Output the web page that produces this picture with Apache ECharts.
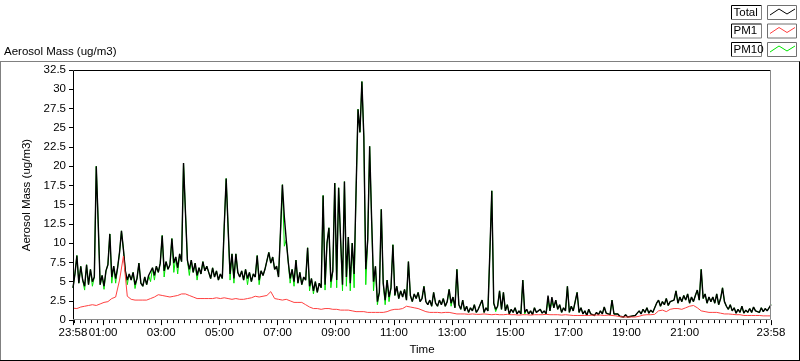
<!DOCTYPE html>
<html>
<head>
<meta charset="utf-8">
<script src="https://cdn.jsdelivr.net/npm/echarts@6/dist/echarts.min.js"></script>
<style>
html,body{margin:0;padding:0;background:#fff;}
#chart{width:800px;height:361px;}
</style>
</head>
<body>
<div id="chart"></div>
<script>
// ---- Data (minutes after 23:58 start) ----
const totalStep = 4;   // minutes between Total / PM10 samples
const pm1Step = 8;     // minutes between PM1 samples

const total = [
4.2,6.0,8.4,4.8,7.0,5.2,4.4,7.2,4.6,6.6,
5.0,5.6,20.0,12.6,4.6,5.8,4.4,6.4,7.2,11.2,
5.6,7.0,5.4,6.8,8.8,11.6,9.2,6.4,5.2,6.0,
5.2,6.2,4.6,5.4,7.4,4.8,4.4,5.6,4.6,5.8,
5.6,6.8,5.8,7.0,6.2,7.4,11.0,6.4,7.6,6.6,
7.2,10.6,7.4,8.2,6.8,8.6,7.6,20.4,14.0,7.8,
6.6,7.8,6.2,7.4,5.8,6.8,6.0,7.6,6.4,7.0,
6.2,5.4,6.8,5.6,6.4,5.2,6.0,5.4,12.2,18.4,
12.0,6.0,8.6,5.4,8.6,6.2,5.6,6.4,5.2,6.6,
5.4,6.2,5.0,6.0,5.6,8.4,5.2,6.4,5.8,6.6,
6.8,8.8,7.4,8.2,6.6,7.0,5.6,11.4,17.6,13.4,
10.4,7.6,5.4,6.6,5.0,7.8,4.8,6.2,4.6,5.6,
5.2,9.4,4.4,5.4,3.8,5.0,3.6,4.8,4.2,16.2,
4.6,10.0,12.0,5.0,6.4,17.8,5.2,17.2,10.6,4.6,
18.0,5.6,10.8,4.8,10.0,6.0,16.8,27.4,24.4,31.0,
23.8,6.6,10.4,22.6,13.2,5.0,7.0,2.4,3.6,14.4,
4.8,2.6,5.2,3.0,4.2,9.8,3.2,4.4,2.8,3.8,
3.0,4.0,2.6,7.6,3.2,2.4,3.4,2.8,3.6,2.4,
2.8,4.4,2.4,2.0,2.6,1.8,3.6,2.2,1.8,2.6,
2.0,2.8,1.8,2.4,4.0,2.2,3.0,1.6,6.6,2.0,
1.4,2.6,1.2,1.8,1.0,1.6,1.2,2.0,1.0,1.4,
1.2,2.6,1.0,1.6,1.2,8.8,16.8,2.2,1.4,1.8,
3.8,1.4,3.6,1.2,2.0,0.8,1.4,1.0,1.6,0.8,
1.2,0.8,5.2,1.0,1.4,0.8,1.2,0.7,1.6,1.0,
0.8,1.4,0.9,1.2,0.8,3.2,1.2,3.0,1.6,2.6,
1.4,2.0,1.0,1.6,1.2,4.4,1.0,1.8,1.2,1.4,
3.6,1.0,1.6,0.8,1.2,0.6,1.4,0.8,1.0,0.6,
1.0,0.7,1.2,0.8,1.7,0.9,1.0,0.7,2.6,0.8,
0.6,0.8,0.5,0.6,0.4,0.7,0.4,0.6,0.5,0.7,
0.6,0.9,1.2,0.8,1.4,1.0,1.6,0.9,1.3,1.0,
1.2,2.2,2.6,1.8,2.4,2.0,2.8,1.9,2.4,2.2,
2.6,3.8,2.2,3.0,2.4,3.2,2.6,3.4,2.2,3.0,
2.4,3.2,3.9,2.6,6.6,2.8,3.4,2.2,3.0,2.4,
3.0,2.2,3.4,2.0,2.8,4.2,2.4,1.8,1.4,2.0,
1.2,1.6,0.9,1.4,1.0,1.8,0.9,1.3,1.0,1.5,
1.0,1.7,1.2,1.4,1.0,1.6,1.1,1.5,1.2,1.6,
2.0
];

const pm10 = [
4.2,6.0,8.4,4.8,7.0,5.2,3.9,7.2,4.6,6.6,
4.4,5.6,20.0,12.6,4.6,5.8,4.0,6.4,7.2,11.2,
4.8,7.0,4.8,6.8,8.8,11.6,9.2,6.4,4.6,6.0,
5.2,6.2,4.1,5.4,7.4,4.8,4.4,5.6,4.6,5.8,
5.0,6.8,5.2,7.0,6.2,7.4,11.0,5.6,7.6,6.6,
7.2,10.6,6.2,8.2,6.0,8.6,7.6,20.4,14.0,7.8,
5.8,7.8,6.2,7.4,5.2,6.8,6.0,7.6,6.4,7.0,
6.2,5.4,6.8,5.6,6.4,5.2,6.0,5.4,12.2,18.4,
12.0,5.2,8.6,4.8,8.6,6.2,5.6,6.4,5.2,6.6,
4.6,6.2,5.0,6.0,5.6,8.4,4.6,6.4,5.8,6.6,
6.8,8.8,7.4,8.2,6.6,7.0,5.6,11.4,17.6,9.6,
10.4,7.6,4.8,6.6,4.4,7.8,4.8,6.2,4.6,5.6,
5.2,9.4,3.8,5.4,3.4,5.0,3.6,4.8,4.2,16.2,
3.9,10.0,12.0,4.2,6.4,17.8,4.2,17.2,10.6,3.8,
18.0,4.4,10.8,3.8,10.0,4.2,16.8,27.4,24.4,31.0,
23.8,4.6,10.4,22.6,13.2,3.8,7.0,2.0,3.6,14.4,
4.8,2.0,5.2,2.4,4.2,9.8,3.2,4.4,2.8,3.8,
3.0,4.0,2.6,7.6,3.2,2.4,3.4,2.8,3.6,2.4,
2.8,4.4,2.4,2.0,2.6,1.8,3.6,2.2,1.8,2.6,
2.0,2.8,1.8,2.4,4.0,1.8,3.0,1.6,6.6,2.0,
1.4,2.6,1.2,1.8,1.0,1.6,1.2,2.0,1.0,1.4,
1.2,2.6,1.0,1.6,1.2,8.8,16.8,2.2,1.1,1.8,
3.8,1.4,3.6,1.2,2.0,0.8,1.4,1.0,1.6,0.8,
1.2,0.8,5.2,0.8,1.4,0.8,1.2,0.7,1.6,1.0,
0.8,1.4,0.9,1.2,0.8,2.6,1.2,2.4,1.6,2.6,
1.4,2.0,1.0,1.6,1.2,4.4,1.0,1.8,1.2,1.4,
3.6,1.0,1.6,0.8,1.2,0.6,1.4,0.8,1.0,0.6,
1.0,0.7,1.2,0.8,1.7,0.9,1.0,0.7,2.6,0.8,
0.6,0.8,0.5,0.6,0.4,0.7,0.4,0.6,0.5,0.7,
0.6,0.9,1.2,0.8,1.4,1.0,1.6,0.9,1.3,1.0,
1.2,2.2,2.6,1.8,2.4,2.0,2.8,1.9,2.4,2.2,
2.6,3.8,2.2,3.0,2.4,3.2,2.6,3.4,2.2,3.0,
2.4,3.2,3.9,2.6,6.6,2.8,3.4,2.2,3.0,2.4,
3.0,2.2,3.4,2.0,2.8,4.2,2.4,1.8,1.4,2.0,
1.2,1.6,0.9,1.4,1.0,1.8,0.9,1.3,1.0,1.5,
1.0,1.7,1.2,1.4,1.0,1.6,1.1,1.5,1.2,1.6,
2.0
];

const pm1 = [
1.55,1.5,1.7,1.8,1.9,2.0,1.9,2.1,2.3,2.4,
2.8,3.0,5.2,8.3,3.1,2.7,2.6,2.6,2.6,2.6,
2.8,3.0,3.3,3.2,3.1,3.0,3.1,3.2,3.4,3.4,
3.2,3.0,2.8,2.8,2.8,2.8,2.8,2.9,2.8,2.9,
2.8,2.7,2.8,2.7,2.7,2.8,2.9,3.1,3.0,3.1,
3.2,3.7,2.8,2.7,2.6,2.7,2.5,2.3,2.3,2.3,
2.0,1.7,1.5,1.5,1.4,1.5,1.5,1.4,1.4,1.3,
1.3,1.3,1.2,1.1,1.1,1.1,1.0,1.0,1.0,1.0,
1.0,1.1,1.3,1.4,1.4,1.5,1.8,1.7,1.6,1.5,
1.3,1.1,1.0,1.0,1.0,0.95,1.0,1.0,0.9,0.8,
0.8,0.8,0.75,0.8,0.75,0.75,0.8,0.75,0.7,0.75,
0.7,0.7,0.75,0.7,0.7,0.65,0.7,0.7,0.65,0.7,
0.7,0.7,0.75,0.7,0.7,0.7,0.65,0.7,0.65,0.6,
0.6,0.6,0.6,0.6,0.65,0.65,0.65,0.6,0.65,0.6,
0.55,0.45,0.4,0.4,0.4,0.4,0.5,0.65,0.7,0.7,
0.75,1.2,1.3,1.1,1.4,1.5,1.5,1.4,1.6,1.8,
1.9,1.6,1.2,1.1,1.0,1.0,1.0,0.9,0.8,0.8,
0.75,0.7,0.7,0.6,0.6,0.6,0.6,0.6,0.55,0.55,
0.55
];

// axis ticks / labels (minutes after 23:58)
const xLabelText = ['23:58','01:00','03:00','05:00','07:00','09:00','11:00','13:00','15:00','17:00','19:00','21:00','23:58'];
const xLabelPos  = [0,62,182,302,422,542,662,782,902,1022,1142,1262,1440];
const xMajorTicks = [0,62,182,302,422,542,662,782,902,1022,1142,1262,1382,1440];
const xMinorTicks = [];
for (let m = 2; m < 1440; m += 12) xMinorTicks.push(m);
const xMin = 0, xMax = 1440, yMin = 0, yMax = 32.5, yStep = 2.5;

const FONT = 'Liberation Sans';
const chart = echarts.init(document.getElementById('chart'), null, {renderer:'canvas'});

function legendRow(label, color, y) {
  return [
    {type:'rect', shape:{x:731.5,y:y+0.5,width:30,height:14}, style:{fill:'#fff', stroke:null}},
    {type:'line', shape:{x1:731.5,y1:y+0.5,x2:761.5,y2:y+0.5}, style:{stroke:'#000',lineWidth:1}},
    {type:'line', shape:{x1:731.5,y1:y+0.5,x2:731.5,y2:y+14.5}, style:{stroke:'#000',lineWidth:1}},
    {type:'line', shape:{x1:731.5,y1:y+14.5,x2:761.5,y2:y+14.5}, style:{stroke:'#808080',lineWidth:1}},
    {type:'line', shape:{x1:761.5,y1:y+0.5,x2:761.5,y2:y+14.5}, style:{stroke:'#808080',lineWidth:1}},
    {type:'text', x:733.5, y:y+1.5, style:{text:label, font:'11.5px "'+FONT+'"', fill:'#000'}},
    {type:'rect', shape:{x:767.5,y:y+0.5,width:29,height:14}, style:{fill:'#fff', stroke:'#707070', lineWidth:1}},
    {type:'polyline', shape:{points:[[770,y+10],[779,y+4],[787,y+9],[795,y+4]]}, style:{stroke:color, lineWidth:1, fill:null}}
  ];
}

const baseGraphic = [
  {type:'line', shape:{x1:0,y1:61.5,x2:800,y2:61.5}, style:{stroke:'#808080',lineWidth:1}},
  {type:'line', shape:{x1:0.5,y1:61.5,x2:0.5,y2:361}, style:{stroke:'#808080',lineWidth:1}},
  {type:'line', shape:{x1:0,y1:360.5,x2:800,y2:360.5}, style:{stroke:'#000',lineWidth:1}},
  {type:'line', shape:{x1:799.5,y1:61.5,x2:799.5,y2:361}, style:{stroke:'#000',lineWidth:1}},
  {type:'text', x:4, y:46, style:{text:'Aerosol Mass (ug/m3)', font:'11.5px "'+FONT+'"', fill:'#000'}}
].concat(legendRow('Total','#000',5), legendRow('PM1','#ff4040',23.5), legendRow('PM10','#00e600',42));

const option = {
  animation:false,
  backgroundColor:'#fff',
  textStyle:{fontFamily:FONT},
  grid:{left:73, right:29, top:70, bottom:39},
  xAxis:[
    {type:'value', min:xMin, max:xMax, position:'bottom',
     name:'Time', nameLocation:'middle', nameGap:23,
     nameTextStyle:{color:'#000', fontSize:11.5, fontFamily:FONT},
     axisLine:{show:false, onZero:false},
     axisTick:{show:true, customValues:xMajorTicks, length:5, lineStyle:{color:'#000'}},
     axisLabel:{show:true, customValues:xLabelPos, margin:7, color:'#000', fontSize:11.5, fontFamily:FONT,
       formatter:function(v){ const i = xLabelPos.indexOf(Math.round(v)); return i>=0 ? xLabelText[i] : ''; }},
     splitLine:{show:false}},
    {type:'value', min:xMin, max:xMax, position:'bottom',
     axisLine:{show:false, onZero:false},
     axisTick:{show:true, customValues:xMinorTicks, length:3, lineStyle:{color:'#000'}},
     axisLabel:{show:false}, splitLine:{show:false}}
  ],
  yAxis:[
    {type:'value', min:yMin, max:yMax, interval:yStep, position:'left',
     name:'Aerosol Mass (ug/m3)', nameLocation:'middle', nameGap:27, nameRotate:90,
     nameTextStyle:{color:'#000', fontSize:11.5, fontFamily:FONT},
     axisLine:{show:false, onZero:false},
     axisTick:{show:true, length:4, lineStyle:{color:'#000'}},
     axisLabel:{margin:7, color:'#000', fontSize:11.5, fontFamily:FONT},
     splitLine:{show:false}}
  ],
  series:[
    {name:'PM10', type:'line', xAxisIndex:0, yAxisIndex:0, showSymbol:false, symbol:'none',
     lineStyle:{color:'#00e600', width:1}, data:pm10.map((v,i)=>[i*totalStep, v])},
    {name:'Total', type:'line', xAxisIndex:0, yAxisIndex:0, showSymbol:false, symbol:'none',
     lineStyle:{color:'#000', width:1.4}, data:total.map((v,i)=>[i*totalStep, v])},
    {name:'PM1', type:'line', xAxisIndex:0, yAxisIndex:0, showSymbol:false, symbol:'none',
     lineStyle:{color:'#ff4040', width:1}, data:pm1.map((v,i)=>[i*pm1Step, v])}
  ],
  graphic:baseGraphic
};
chart.setOption(option);

// plot frame, placed from the axis extents
const p00 = chart.convertToPixel({xAxisIndex:0, yAxisIndex:0}, [xMin, yMin]);
const p11 = chart.convertToPixel({xAxisIndex:0, yAxisIndex:0}, [xMax, yMax]);
const L = Math.round(p00[0]) + 0.5, R = Math.round(p11[0]) - 0.5;
const B = Math.round(p00[1]) - 0.5, T = Math.round(p11[1]) + 0.5;
chart.setOption({graphic: baseGraphic.concat([
  {type:'line', z:100, shape:{x1:L,y1:T,x2:R,y2:T}, style:{stroke:'#000',lineWidth:1}},
  {type:'line', z:100, shape:{x1:L,y1:T,x2:L,y2:B}, style:{stroke:'#000',lineWidth:1}},
  {type:'line', z:100, shape:{x1:L,y1:B,x2:R,y2:B}, style:{stroke:'#8a8a8a',lineWidth:1}},
  {type:'line', z:100, shape:{x1:R,y1:T,x2:R,y2:B}, style:{stroke:'#8a8a8a',lineWidth:1}}
])}, {replaceMerge:['graphic']});
</script>
</body>
</html>
